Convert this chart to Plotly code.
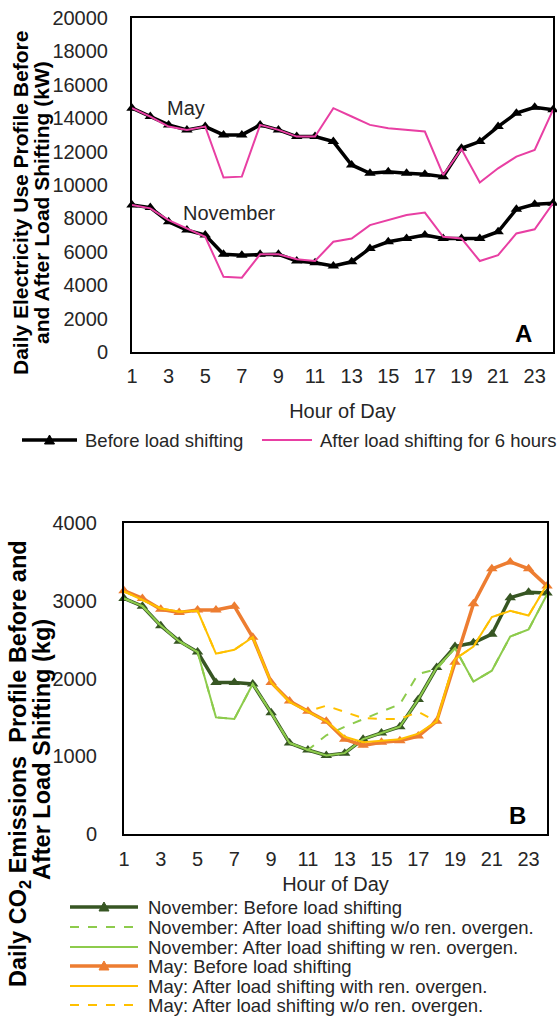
import plotly.graph_objects as go

W, H = 557, 1021

hours = list(range(1, 25))
x_ticks = list(range(1, 24, 2))
y_ticks_top = list(range(0, 20001, 2000))
y_ticks_bottom = list(range(0, 4001, 1000))

# Panel A: electricity use (kW)
may_before_kw = [14600, 14100, 13600, 13300, 13500, 13000, 13000, 13600, 13300, 12900, 12900, 12600,
                 11200, 10700, 10800, 10700, 10650, 10500, 12200, 12600, 13500, 14300, 14650, 14500]
may_after_kw = [14600, 14100, 13500, 13300, 13500, 10450, 10500, 13600, 13300, 12900, 12900, 14600,
                14100, 13600, 13400, 13300, 13200, 10600, 12150, 10150, 11000, 11700, 12100, 14500]
nov_before_kw = [8800, 8650, 7800, 7300, 7000, 5850, 5800, 5850, 5850, 5450, 5350, 5150,
                 5400, 6200, 6600, 6800, 7000, 6800, 6800, 6800, 7200, 8550, 8850, 8900]
nov_after_kw = [8800, 8600, 7900, 7400, 6900, 4500, 4450, 5850, 5850, 5550, 5450, 6600,
                6800, 7600, 7900, 8200, 8350, 6900, 6800, 5450, 5800, 7100, 7350, 8900]

# Panel B: CO2 emissions (kg)
nov_before_co2 = [3030, 2930, 2680, 2480, 2340, 1950, 1950, 1930, 1560, 1170, 1080, 1010,
                  1040, 1220, 1300, 1380, 1730, 2140, 2410, 2460, 2570, 3040, 3110, 3100]
nov_after_wo_co2 = [3030, 2930, 2680, 2480, 2340, 1500, 1480, 1930, 1560, 1170, 1080, 1270,
                    1380, 1480, 1570, 1670, 2060, 2120, 2390, 1960, 2100, 2540, 2630, 3080]
nov_after_w_co2 = [3030, 2930, 2680, 2480, 2340, 1500, 1480, 1930, 1560, 1170, 1080, 1010,
                   1040, 1220, 1300, 1380, 1730, 2140, 2390, 1960, 2100, 2540, 2630, 3080]
may_before_co2 = [3130, 3030, 2890, 2850, 2880, 2880, 2930, 2530, 1950, 1710, 1580, 1450,
                  1220, 1140, 1180, 1200, 1260, 1450, 2210, 2960, 3410, 3500, 3410, 3190]
may_after_with_co2 = [3120, 3010, 2900, 2860, 2870, 2320, 2370, 2530, 1950, 1700, 1580, 1450,
                      1250, 1180, 1200, 1220, 1290, 1450, 2250, 2410, 2790, 2870, 2810, 3210]
may_after_wo_co2 = [3120, 3010, 2900, 2860, 2870, 2320, 2370, 2530, 1950, 1700, 1580, 1650,
                    1570, 1490, 1480, 1480, 1570, 1450, 2250, 2410, 2790, 2870, 2810, 3210]

legend_top = ["Before load shifting", "After load shifting for 6 hours"]
legend_bottom = [
    "November: Before load shifting",
    "November: After load shifting w/o ren. overgen.",
    "November: After load shifting w ren. overgen.",
    "May: Before load shifting",
    "May: After load shifting with ren. overgen.",
    "May: After load shifting w/o ren. overgen.",
]

BLACK = "#000000"
PINK = "#E83FA3"
DKGREEN = "#375623"
LTGREEN = "#8DCB4C"
ORANGE = "#ED7D31"
GOLD = "#FFC000"
FONT = "Liberation Sans, Arial, sans-serif"
TXT = "#262626"


def px_x(p):
    return p / W


def px_y(p):
    return 1 - p / H


fig = go.Figure()

tri = dict(symbol="triangle-up", size=10)

# ---- Panel A ----
a_series = [
    (may_before_kw, BLACK, 3.5, True),
    (may_after_kw, PINK, 2, False),
    (nov_before_kw, BLACK, 3.5, True),
    (nov_after_kw, PINK, 2, False),
]
a_names = [legend_top[0], legend_top[1], legend_top[0], legend_top[1]]
for (vals, col, lw, mk), nm in zip(a_series, a_names):
    fig.add_trace(go.Scatter(x=hours, y=vals, mode="lines+markers" if mk else "lines", name=nm,
                             line=dict(color=col, width=lw),
                             marker=dict(color=col, **tri) if mk else None,
                             cliponaxis=False, showlegend=False, xaxis="x", yaxis="y"))

# ---- Panel B ----
b_series = [
    (nov_before_co2, DKGREEN, 3.5, "solid", True),
    (nov_after_wo_co2, LTGREEN, 2, "dash", False),
    (nov_after_w_co2, LTGREEN, 2, "solid", False),
    (may_before_co2, ORANGE, 3.5, "solid", True),
    (may_after_with_co2, GOLD, 2, "solid", False),
    (may_after_wo_co2, GOLD, 2, "dash", False),
]
for (vals, col, lw, dash, mk), nm in zip(b_series, legend_bottom):
    fig.add_trace(go.Scatter(x=hours, y=vals, mode="lines+markers" if mk else "lines", name=nm,
                             line=dict(color=col, width=lw, dash=dash),
                             marker=dict(color=col, **tri) if mk else None,
                             cliponaxis=False, showlegend=False, xaxis="x2", yaxis="y2"))

axis_common = dict(showline=True, linewidth=2, linecolor="black", mirror=True, ticks="",
                   showgrid=False, zeroline=False, automargin=False, tickformat="d",
                   tickfont=dict(size=20, color=TXT, family=FONT))

fig.update_layout(
    width=W, height=H, autosize=False,
    margin=dict(l=0, r=0, t=0, b=0, pad=0),
    paper_bgcolor="white", plot_bgcolor="white",
    font=dict(family=FONT, size=20, color=TXT),
    showlegend=False,
    xaxis=dict(domain=[px_x(132), px_x(553)], range=[1, 24], tickvals=x_ticks,
               anchor="y", ticklabelstandoff=5,
               title=dict(text="Hour of Day", font=dict(size=20, color=TXT), standoff=18),
               **axis_common),
    yaxis=dict(domain=[px_y(352), px_y(18)], range=[0, 20000], tickvals=y_ticks_top,
               anchor="x", ticklabelstandoff=18, **axis_common),
    xaxis2=dict(domain=[px_x(124), px_x(547)], range=[1, 24], tickvals=x_ticks,
                anchor="y2", ticklabelstandoff=6,
                title=dict(text="Hour of Day", font=dict(size=20, color=TXT), standoff=8),
                **axis_common),
    yaxis2=dict(domain=[px_y(834), px_y(523)], range=[0, 4000], tickvals=y_ticks_bottom,
                anchor="x2", ticklabelstandoff=21, **axis_common),
)


def label(text, x, y, size, color, angle=0, xanchor="center"):
    return dict(text=text, x=px_x(x), y=px_y(y), xref="paper", yref="paper",
                textangle=angle, showarrow=False, xanchor=xanchor, yanchor="middle",
                font=dict(size=size, color=color))


ann = []
# Y titles (two rotated lines each)
ann.append(label("<b>Daily Electricity Use Profile Before</b>", 21, 203, 21, "black", -90))
ann.append(label("<b>and After Load Shifting (kW)</b>", 42, 203, 21, "black", -90))
ann.append(label("<b>Daily CO<sub>2</sub> Emissions  Profile Before and</b>", 19, 764, 23.5, "black", -90))
ann.append(label("<b>After Load Shifting (kg)</b>", 42, 750, 23.5, "black", -90))
# In-chart labels
ann.append(label("May", 186, 108, 20, TXT))
ann.append(label("November", 229, 213, 20, TXT))
ann.append(label("<b>A</b>", 523, 333, 24, "black"))
ann.append(label("<b>B</b>", 517, 815, 24, "black"))

shapes = []


def legend_entry(x0, x1, y, col, lw, dash, mk, text, tx):
    shapes.append(dict(type="line", xref="paper", yref="paper", x0=px_x(x0), x1=px_x(x1),
                       y0=px_y(y), y1=px_y(y), line=dict(color=col, width=lw, dash=dash)))
    if mk:
        cx = (x0 + x1) / 2
        path = "M {:.5f},{:.5f} L {:.5f},{:.5f} L {:.5f},{:.5f} Z".format(
            px_x(cx - 5), px_y(y + 4), px_x(cx + 5), px_y(y + 4), px_x(cx), px_y(y - 5))
        shapes.append(dict(type="path", xref="paper", yref="paper", path=path,
                           fillcolor=col, line=dict(color=col, width=1)))
    ann.append(label(text, tx, y, 18.5, TXT, xanchor="left"))


# Legend for panel A
legend_entry(22, 77, 440, BLACK, 3.5, "solid", True, legend_top[0], 83)
legend_entry(262, 312, 440, PINK, 2, "solid", False, legend_top[1], 318)

# Legend for panel B
row_y = [907, 927, 947, 966, 986, 1005]
for (vals, col, lw, dash, mk), nm, ry in zip(b_series, legend_bottom, row_y):
    legend_entry(70, 138, ry, col, lw, dash, mk, nm, 146)

fig.update_layout(annotations=ann, shapes=shapes)

fig.write_html(
    "out.html",
    config={"displayModeBar": False},
    post_script="document.body.style.margin='0';document.body.style.overflow='hidden';",
)
